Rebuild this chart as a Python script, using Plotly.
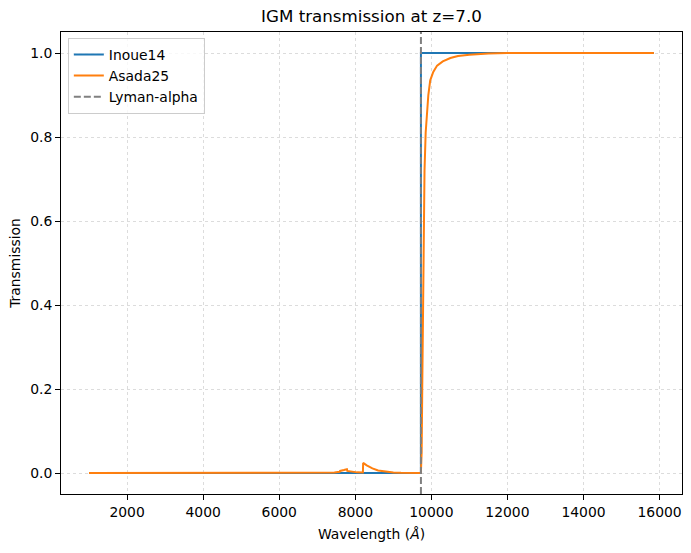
import plotly.graph_objects as go

# --- data ---
z = 7.0
lya_obs = 9725.4  # Lyman-alpha observed wavelength (1215.67 * (1+z))

inoue_wave = [1000, 7300, 8200, 9725.0, 9725.6, 12000, 15850]
inoue_trans = [0.0, 0.0, 0.0, 0.0, 1.0, 1.0, 1.0]

asada_wave = [1000, 3000, 5000, 7300, 7450, 7590, 7600, 7700, 7780, 7790, 7900,
              8050, 8200, 8206, 8300, 8450, 8600, 8800, 9000, 9200, 9400, 9600,
              9720, 9726, 9745, 9760, 9780, 9800, 9820, 9850, 9880, 9920, 9970,
              10050, 10150, 10300, 10500, 10700, 11000, 11500, 12000, 14000, 15850]
asada_trans = [0.0, 0.0, 0.0, 0.0, 0.0012, 0.003, 0.005, 0.007, 0.009, 0.005, 0.003,
               0.0015, 0.001, 0.024, 0.018, 0.011, 0.006, 0.003, 0.001, 0.0003, 0.0001, 0.0,
               0.0, 0.003, 0.05, 0.2, 0.4, 0.58, 0.72, 0.81, 0.86, 0.9, 0.935,
               0.955, 0.97, 0.98, 0.988, 0.993, 0.996, 0.999, 1.0, 1.0, 1.0]

lya_y = [-0.05, 1.05]

x_ticks = [2000, 4000, 6000, 8000, 10000, 12000, 14000, 16000]
y_ticks = [0.0, 0.2, 0.4, 0.6, 0.8, 1.0]

FONT = "DejaVu Sans"
FS = 13.9

fig = go.Figure()
fig.add_trace(go.Scatter(x=inoue_wave, y=inoue_trans, mode="lines", name="Inoue14",
                         line=dict(color="#1f77b4", width=2)))
fig.add_trace(go.Scatter(x=asada_wave, y=asada_trans, mode="lines", name="Asada25",
                         line=dict(color="#ff7f0e", width=2)))
fig.add_trace(go.Scatter(x=[lya_obs, lya_obs], y=lya_y, mode="lines", name="Lyman-alpha",
                         line=dict(color="#808080", width=2, dash="7px,3px")))

axis_common = dict(
    showline=True, linecolor="black", linewidth=1, mirror=True,
    ticks="outside", ticklen=5, tickwidth=1, tickcolor="black",
    showgrid=True, gridcolor="#dcdcdc", griddash="dot", gridwidth=1,
    zeroline=False, automargin=False,
    tickfont=dict(family=FONT, size=FS, color="black"),
)

fig.update_xaxes(range=[263, 16589], tickvals=x_ticks, tickformat="d",
                 title=dict(text="Wavelength (<i>Å</i>)", font=dict(family=FONT, size=FS, color="black"),
                            standoff=10),
                 **axis_common)
fig.update_yaxes(range=[-0.05, 1.05], tickvals=y_ticks, tickformat=".1f",
                 title=dict(text="Transmission", font=dict(family=FONT, size=FS, color="black"),
                            standoff=6),
                 **axis_common)

fig.update_layout(
    width=691, height=553,
    margin=dict(l=61, r=9, t=32, b=59, autoexpand=False),
    paper_bgcolor="white", plot_bgcolor="white",
    font=dict(family=FONT, size=FS, color="black"),
    title=dict(text="IGM transmission at z=7.0", x=0.5, xref="paper",
               y=1 - 16 / 553, yref="container", yanchor="middle",
               font=dict(family=FONT, size=16.7, color="black"), automargin=False),
    legend=dict(x=0.011, y=0.987, xanchor="left", yanchor="top",
                bgcolor="rgba(255,255,255,0.8)", bordercolor="#cccccc", borderwidth=1,
                font=dict(family=FONT, size=FS, color="black"),
                tracegroupgap=0),
    showlegend=True,
)

fig.write_html("out.html", config={"displayModeBar": False},
               post_script="document.body.style.margin='0';document.body.style.overflow='hidden';")
